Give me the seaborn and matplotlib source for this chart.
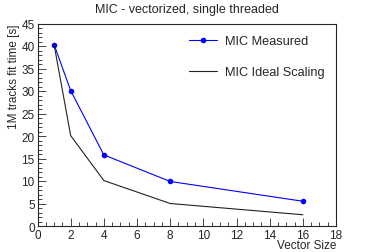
"""
MIC fit time vs vector size, ROOT-like look.
"""
import matplotlib
matplotlib.use('Agg')
import matplotlib.pyplot as plt
from matplotlib.ticker import MultipleLocator
import seaborn as sns
import pandas as pd

vector_size = [1, 2, 4, 8, 16]
measured = [40.3, 30.1, 15.8, 9.9, 5.5]
ideal = [40.3, 20.1, 10.1, 5.0, 2.5]

df = pd.DataFrame({'size': vector_size, 'measured': measured, 'ideal': ideal})

sns.set_style('ticks')
plt.rcParams['font.family'] = ['Liberation Sans', 'DejaVu Sans']
plt.rcParams['font.size'] = 8

fig = plt.figure(figsize=(3.74, 2.53), dpi=100)
ax = fig.add_axes([37.5 / 374, 1 - 227 / 253, (336 - 37.5) / 374, (227 - 24.5) / 253])

sns.lineplot(data=df, x='size', y='measured', ax=ax, color='#0000ff', lw=0.8,
             marker='o', markersize=4, markeredgewidth=0, label='MIC Measured')
sns.lineplot(data=df, x='size', y='ideal', ax=ax, color='#222222', lw=0.8,
             label='MIC Ideal Scaling')

ax.set_xlim(0, 18)
ax.set_ylim(0, 45)
ax.xaxis.set_major_locator(MultipleLocator(2))
ax.xaxis.set_minor_locator(MultipleLocator(0.5))
ax.yaxis.set_major_locator(MultipleLocator(5))
ax.yaxis.set_minor_locator(MultipleLocator(1))
ax.tick_params(which='both', direction='in', width=0.6, labelsize=8.5, pad=2)
ax.tick_params(which='major', length=6)
ax.tick_params(which='minor', length=3)
for s in ax.spines.values():
    s.set_linewidth(0.8)

ax.set_xlabel('Vector Size', fontsize=8.5, loc='right', labelpad=-1)
ax.set_ylabel('1M tracks fit time [s]', fontsize=8.5, loc='top', labelpad=1)
fig.text(0.5, 1 - 10 / 253, 'MIC - vectorized, single threaded', ha='center',
         va='center', fontsize=9)

ax.legend(loc='upper right', frameon=False, fontsize=9.2, labelspacing=1.5,
          handlelength=2.2, handletextpad=0.6, borderaxespad=0.5,
          bbox_to_anchor=(1.0, 1.0))

plt.savefig('out.png', dpi=100)
